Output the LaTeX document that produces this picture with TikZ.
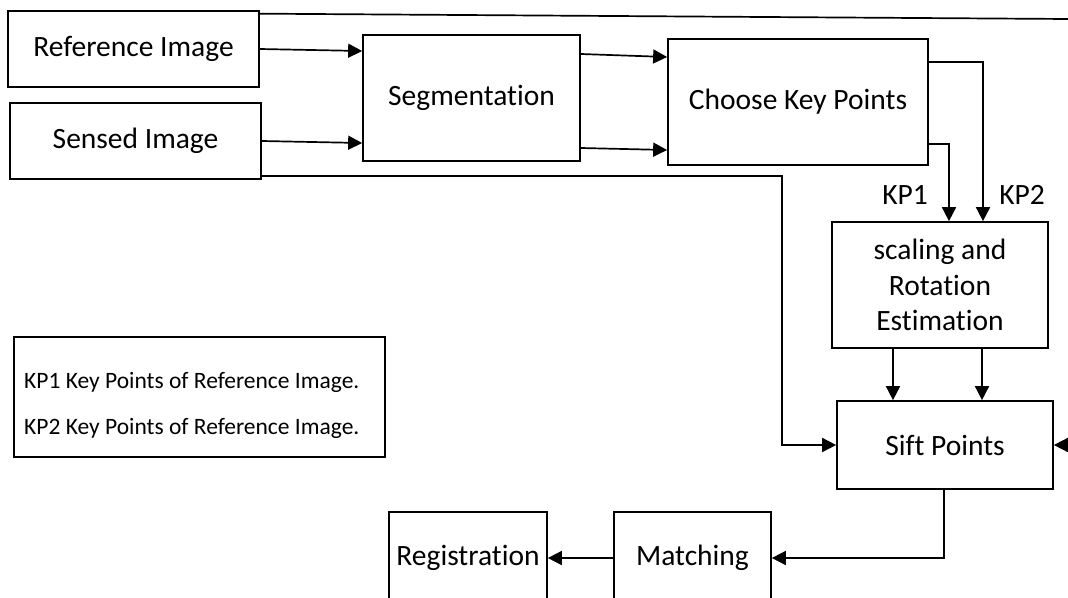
\documentclass[tikz,border=0pt]{standalone}
\usepackage{fontspec}
\setmainfont{Carlito}[Ligatures=NoCommon]
\usetikzlibrary{arrows.meta,calc}
\tikzset{
  blk/.style={draw, line width=1.7pt, inner sep=0pt, align=center, font=\fontsize{29.5}{35.5}\selectfont},
  lnk/.style={line width=1.7pt},
  arr/.style={line width=1.7pt, -{Triangle[length=14pt,width=14pt]}},
  lbl/.style={inner sep=0pt, font=\fontsize{29.5}{34}\selectfont},
  leg/.style={inner sep=0pt, anchor=west, font=\fontsize{23.5}{28}\selectfont}
}
\begin{document}
\begin{tikzpicture}[x=1pt,y=-1pt]
\useasboundingbox (0,0) rectangle (1068,597);
\fill[white] (0,0) rectangle (1068,597);
\clip (0,0) rectangle (1068,597);

\node[blk, minimum width=251pt, minimum height=76pt] (ref) at (133.5,49) {Reference Image};
\node[blk, minimum width=251pt, minimum height=76pt] (sensed) at (135.5,141) {Sensed Image};
\node[blk, minimum width=217pt, minimum height=126pt] (seg) at (471.5,98) {Segmentation};
\node[blk, minimum width=260pt, minimum height=126pt] (ckp) at (798,102) {Choose Key Points};
\node[blk, minimum width=216pt, minimum height=126pt] (scale) at (940,285) {scaling and\\Rotation\\Estimation};
\node[blk, minimum width=216pt, minimum height=88pt] (sift) at (945,445) {Sift Points};
\node[blk, minimum width=157pt, minimum height=92pt] (match) at (692.5,558) {Matching};
\node[blk, minimum width=158pt, minimum height=92pt] (reg) at (468,558) {Registration};

\node[draw, line width=1.7pt, minimum width=371pt, minimum height=120pt, inner sep=0pt] (legend) at (199.5,397) {};
\node[leg] (leg1) at (24,382) {KP1 Key Points of Reference Image.};
\node[leg] (leg2) at (24,428) {KP2 Key Points of Reference Image.};

\node[lbl] (kp1) at (905,195) {KP1};
\node[lbl] (kp2) at (1022,195) {KP2};

\coordinate (topR) at (1068,19);
\coordinate (rightIn) at (1068,445);
\coordinate (sa) at ($(scale.south)+(-47,0)$);
\coordinate (sb) at ($(scale.south)+(42,0)$);

% inputs to segmentation
\draw[arr] (ref.east) -- ($(ref.east -| seg.west)+(0,2)$);
\draw[arr] (sensed.east) -- ($(sensed.east -| seg.west)+(0,2)$);
% segmentation to choose key points
\draw[arr] ($(seg.east)+(0,-44)$) -- ($(ckp.west)+(0,-45)$);
\draw[arr] ($(seg.east)+(0,50)$) -- ($(ckp.west)+(0,48)$);
% top line from reference image
\draw[lnk] ($(ref.north east)+(-2,3.5)$) -- (topR);
\draw[arr] (rightIn) -- (sift.east);
% sensed image to sift points
\draw[arr] ($(sensed.south east)+(0,-4)$) -| ($(sift.west)+(-54,0)$) -- (sift.west);
% key points to scaling
\draw[arr] ($(ckp.east)+(0,-40)$) -| ($(scale.north)+(43,0)$);
\draw[arr] ($(ckp.east)+(0,42)$) -| ($(scale.north)+(9,0)$);
% scaling to sift
\draw[arr] (sa) -- (sa |- sift.north);
\draw[arr] (sb) -- (sb |- sift.north);
% sift to matching to registration
\draw[arr] ($(sift.south)+(-1,0)$) |- (match.east);
\draw[arr] (match.west) -- (reg.east);
\end{tikzpicture}
\end{document}
